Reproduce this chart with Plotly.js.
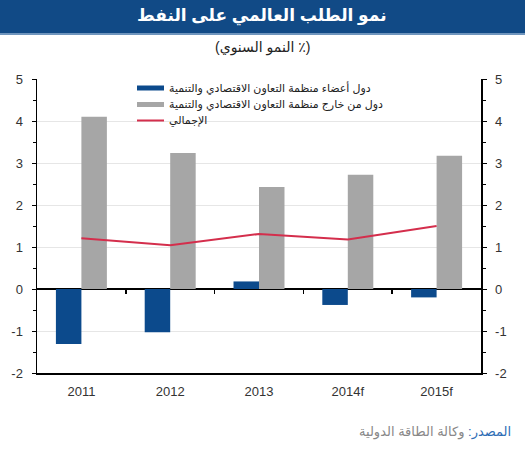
<!DOCTYPE html>
<html><head><meta charset="utf-8">
<script src="https://cdn.plot.ly/plotly-3.0.1.min.js"></script>
<style>html,body{margin:0;padding:0;background:#fff}#chart{width:525px;height:450px}</style>
</head><body><div id="chart"></div>
<script>
const categories = ['2011','2012','2013','2014f','2015f'];
const oecd = [-1.31, -1.03, 0.18, -0.38, -0.20];
const nonOecd = [4.10, 3.24, 2.43, 2.72, 3.17];
const total = [1.21, 1.04, 1.31, 1.18, 1.50];
const seriesNames = ['دول أعضاء منظمة التعاون الاقتصادي والتنمية','دول من خارج منظمة التعاون الاقتصادي والتنمية','الإجمالي'];
const yTicks = [-2,-1,0,1,2,3,4,5];

const W=525,H=450,L=37,R=44,T=79,B=77;
const ph = H-T-B;
const py = p => 1-(p-T)/ph;
const px = p => (p-L)/(W-L-R);
const font = 'Arial, "Liberation Sans", "DejaVu Sans", sans-serif';
const colors = ['#0c4a8c','#a6a6a6','#d42e4c'];

const traces = [
  {type:'bar', x:categories, y:oecd, name:seriesNames[0], marker:{color:colors[0]}, showlegend:false},
  {type:'bar', x:categories, y:nonOecd, name:seriesNames[1], marker:{color:colors[1]}, showlegend:false},
  {type:'scatter', mode:'lines', x:categories, y:total, name:seriesNames[2], line:{color:colors[2], width:2}, showlegend:false},
  {type:'scatter', mode:'markers', x:[0], y:[0], xaxis:'x2', yaxis:'y', marker:{opacity:0}, showlegend:false, hoverinfo:'skip'},
  {type:'scatter', mode:'markers', x:[categories[0]], y:[0], xaxis:'x', yaxis:'y2', marker:{opacity:0}, showlegend:false, hoverinfo:'skip'}
];

const yCommon = {range:[-2,5], autorange:false, tickvals:yTicks, ticktext:yTicks.map(String), ticks:'outside', ticklen:4, tickcolor:'#000', tickwidth:1,
  showline:true, linecolor:'#000', linewidth:1.5, tickfont:{family:font,size:13,color:'#333'}, ticklabelstandoff:6,
  minor:{dtick:0.5, ticks:'outside', ticklen:3, tickcolor:'#000', showgrid:false}};

const legendRows = [88, 104.5, 120.5];
const shapes = [
  {type:'rect', xref:'paper', yref:'paper', x0:-L/(W-L-R), x1:1+R/(W-L-R), y0:py(0), y1:py(33), fillcolor:'#114a86', line:{width:0}, layer:'above'},
  {type:'rect', xref:'paper', yref:'paper', x0:-L/(W-L-R), x1:1+R/(W-L-R), y0:py(33), y1:py(35), fillcolor:'#6f95bd', line:{width:0}, layer:'above'},
  {type:'rect', xref:'paper', yref:'paper', x0:px(137), x1:px(164), y0:py(legendRows[0]-2.5), y1:py(legendRows[0]+2.5), fillcolor:colors[0], line:{width:0}},
  {type:'rect', xref:'paper', yref:'paper', x0:px(137), x1:px(164), y0:py(legendRows[1]-2.5), y1:py(legendRows[1]+2.5), fillcolor:colors[1], line:{width:0}},
  {type:'line', xref:'paper', yref:'paper', x0:px(137), x1:px(164), y0:py(legendRows[2]), y1:py(legendRows[2]), line:{color:colors[2], width:2}}
];

const annotations = [
  {text:'<b>نمو الطلب العالمي على النفط</b>', xref:'paper', yref:'paper', x:px(262), y:py(16), xanchor:'center', yanchor:'middle', showarrow:false, font:{family:font,size:17,color:'#fff'}},
  {text:'(النمو السنوي ٪)', xref:'paper', yref:'paper', x:px(262), y:py(47), xanchor:'center', yanchor:'middle', showarrow:false, font:{family:font,size:14,color:'#222'}},
  {text:'<span style="color:#2f6db5">المصدر:</span><span style="color:#888"> وكالة الطاقة الدولية</span>', xref:'paper', yref:'paper', x:px(513), y:py(432), xanchor:'right', yanchor:'middle', showarrow:false, font:{family:font,size:13,color:'#888'}}
];
seriesNames.forEach((n,i)=>annotations.push({text:n, xref:'paper', yref:'paper', x:px(167), y:py(legendRows[i]), xanchor:'left', yanchor:'middle', showarrow:false, font:{family:font,size:11,color:'#222'}}));

const layout = {
  width:W, height:H, margin:{l:L,r:R,t:T,b:B}, paper_bgcolor:'#fff', plot_bgcolor:'#fff',
  barmode:'group', bargap:0.426, bargroupgap:0, showlegend:false,
  font:{family:font},
  xaxis:{type:'category', range:[-0.5,4.5], showline:true, linecolor:'#000', linewidth:1.5, ticks:'', showgrid:false, zeroline:false,
    tickfont:{family:font,size:13,color:'#333'}, ticklabelstandoff:6, mirror:false},
  xaxis2:{overlaying:'x', anchor:'free', position:2/7, range:[-0.5,4.5], tickvals:[0.5,1.5,2.5,3.5], ticks:'outside', ticklen:4, tickcolor:'#000', tickwidth:1.5,
    showticklabels:false, showline:false, showgrid:false, zeroline:false},
  yaxis:Object.assign({}, yCommon, {side:'left', showgrid:true, gridcolor:'#e6e6e6', gridwidth:1, zeroline:true, zerolinecolor:'#000', zerolinewidth:1.5}),
  yaxis2:Object.assign({}, yCommon, {side:'right', overlaying:'y', showgrid:false, zeroline:false}),
  shapes:shapes, annotations:annotations
};
Plotly.newPlot('chart', traces, layout, {displayModeBar:false, staticPlot:true});
</script></body></html>
